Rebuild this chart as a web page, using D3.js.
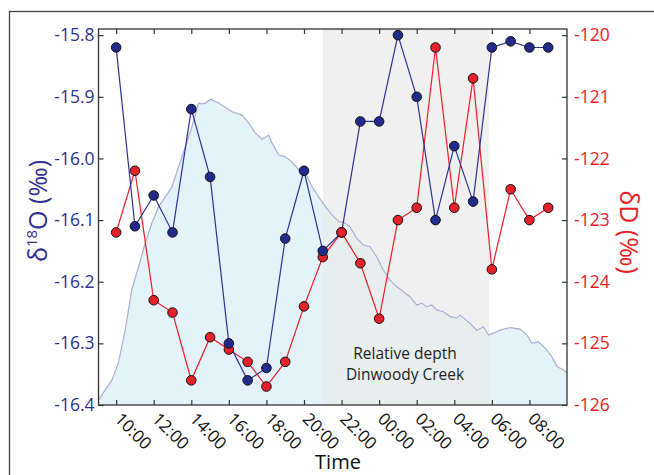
<!DOCTYPE html>
<html lang='en'>
<head>
  <meta charset='UTF-8'/>
  <title>Dinwoody Creek isotopes</title>
  <script src='https://d3js.org/d3.v7.min.js'></script>
  <style>
    body { margin: 0; background: #fff; }
    svg text { font-family: 'Open Sans', sans-serif; }
  </style>
</head>
<body>
  <svg id="chart" width="654" height="475"></svg>
<script>
// sample times, hours since midnight of day 1 (10:00 .. 09:00 next day)
const hours = [10, 11, 12, 13, 14, 15, 16, 17, 18, 19, 20, 21, 22, 23, 24, 25, 26, 27, 28, 29, 30, 31, 32, 33];
const d18O = [-15.82, -16.11, -16.06, -16.12, -15.92, -16.03, -16.30, -16.36, -16.34, -16.13, -16.02, -16.15,
              -16.12, -15.94, -15.94, -15.80, -15.90, -16.10, -15.98, -16.07, -15.82, -15.81, -15.82, -15.82];
const dD = [-123.2, -122.2, -124.3, -124.5, -125.6, -124.9, -125.1, -125.3, -125.7, -125.3, -124.4, -123.6,
            -123.2, -123.7, -124.6, -123.0, -122.8, -120.2, -122.8, -120.7, -123.8, -122.5, -123.0, -122.8];

// relative depth of the creek (0 = bottom of plot, 1 = top)
const depthHours = [9.06, 9.41, 9.77, 10.12, 10.48, 10.83, 11.19, 11.55, 11.9, 12.26, 12.61, 12.97, 13.32, 13.68,
  14.03, 14.39, 14.57, 14.75, 15.03, 15.46, 16.17, 16.7, 17.06, 17.41, 17.77, 18.12, 18.3, 18.66, 19.01, 19.37,
  19.72, 20.08, 20.43, 20.79, 21.15, 21.5, 21.86, 22.09, 22.44, 22.8, 23.15, 23.51, 23.87, 24.22, 24.58, 24.93,
  25.29, 25.64, 26.0, 26.27, 26.53, 26.8, 27.07, 27.42, 27.78, 28.13, 28.31, 28.84, 29.2, 29.55, 29.82, 30.09,
  30.44, 30.98, 31.51, 31.87, 32.13, 32.49, 32.84, 33.2, 33.47, 33.82, 34.0];
const depthRel = [0.013, 0.04, 0.066, 0.112, 0.199, 0.306, 0.367, 0.431, 0.484, 0.527, 0.553, 0.58, 0.633, 0.686,
  0.739, 0.803, 0.801, 0.803, 0.813, 0.803, 0.78, 0.771, 0.75, 0.723, 0.707, 0.718, 0.697, 0.665, 0.66, 0.646,
  0.625, 0.617, 0.58, 0.553, 0.527, 0.505, 0.487, 0.487, 0.474, 0.444, 0.426, 0.421, 0.394, 0.359, 0.332, 0.315,
  0.301, 0.288, 0.266, 0.271, 0.261, 0.266, 0.253, 0.248, 0.235, 0.231, 0.239, 0.217, 0.199, 0.208, 0.186, 0.191,
  0.199, 0.206, 0.202, 0.186, 0.164, 0.168, 0.151, 0.128, 0.102, 0.093, 0.085];

const nightStart = 21.0, nightEnd = 29.85;   // grey shaded span
const xTicks = [10, 12, 14, 16, 18, 20, 22, 24, 26, 28, 30, 32];
const leftTicks = [-15.8, -15.9, -16.0, -16.1, -16.2, -16.3, -16.4];
const rightTicks = [-120, -121, -122, -123, -124, -125, -126];

const navy = '#2e3192', red = '#ed1c24';
const margin = {left: 98.5, right: 567, top: 29, bottom: 405};

const svg = d3.select('#chart');

// outer frame
svg.append('rect')
  .attr('x', 9.5).attr('y', 11.5).attr('width', 700).attr('height', 500)
  .attr('fill', 'none').attr('stroke', '#444').attr('stroke-width', 1.3);

const x = d3.scaleLinear().domain([9.06, 34]).range([margin.left, margin.right]);
const yL = d3.scaleLinear().domain([-16.4, -15.79]).range([margin.bottom, margin.top]);
const yR = d3.scaleLinear().domain([-126, -119.9]).range([margin.bottom, margin.top]);
const yDepth = d3.scaleLinear().domain([0, 1]).range([margin.bottom, margin.top]);

const depth = depthHours.map((h, i) => ({h: h, r: depthRel[i]}));

svg.append('path')
  .datum(depth)
  .attr('fill', '#e4f3f9')
  .attr('d', d3.area().x(d => x(d.h)).y0(margin.bottom).y1(d => yDepth(d.r)));

svg.append('rect')
  .attr('x', x(nightStart)).attr('y', margin.top)
  .attr('width', x(nightEnd) - x(nightStart)).attr('height', margin.bottom - margin.top)
  .attr('fill', '#e9e9e9').attr('opacity', 0.7);

svg.append('path')
  .datum(depth)
  .attr('fill', 'none').attr('stroke', '#a9aed3').attr('stroke-width', 1.2)
  .attr('d', d3.line().x(d => x(d.h)).y(d => yDepth(d.r)));

const label = svg.append('text')
  .attr('text-anchor', 'middle').attr('fill', '#231f20').style('font-size', '15.5px');
label.append('tspan').attr('x', 405).attr('y', 359).text('Relative depth');
label.append('tspan').attr('x', 405).attr('y', 380).text('Dinwoody Creek');

// series lines
const pts = hours.map((h, i) => ({h: h, o: d18O[i], d: dD[i]}));
svg.append('path').datum(pts)
  .attr('fill', 'none').attr('stroke', red).attr('stroke-width', 1.2)
  .attr('d', d3.line().x(d => x(d.h)).y(d => yR(d.d)));
svg.append('path').datum(pts)
  .attr('fill', 'none').attr('stroke', navy).attr('stroke-width', 1.2)
  .attr('d', d3.line().x(d => x(d.h)).y(d => yL(d.o)));

// markers: lower markers first so the upper one sits on top where they overlap
let marks = [];
pts.forEach(p => {
  marks.push({cx: x(p.h), cy: yL(p.o), fill: '#222b8c'});
  marks.push({cx: x(p.h), cy: yR(p.d), fill: '#e62129'});
});
marks.sort((a, b) => b.cy - a.cy);
svg.selectAll('.dot').data(marks).enter()
  .append('circle')
  .attr('class', 'dot')
  .attr('cx', d => d.cx).attr('cy', d => d.cy).attr('r', 4.8)
  .attr('fill', d => d.fill).attr('stroke', '#111').attr('stroke-width', 1);

// axes
const fmtHour = h => String(h % 24).padStart(2, '0') + ':00';

const gBottom = svg.append('g')
  .attr('transform', `translate(0,${margin.bottom})`)
  .call(d3.axisBottom(x).tickValues(xTicks).tickFormat(fmtHour).tickSizeInner(-5).tickSizeOuter(0));
gBottom.selectAll('text')
  .attr('x', 0).attr('y', 0).attr('dy', 0)
  .attr('text-anchor', 'start')
  .attr('transform', 'translate(-3,15) rotate(45)')
  .attr('fill', '#111').style('font-size', '17px');

svg.append('g')
  .attr('transform', `translate(0,${margin.top})`)
  .call(d3.axisTop(x).tickValues(xTicks).tickFormat('').tickSizeInner(-5).tickSizeOuter(0));

const gLeft = svg.append('g')
  .attr('transform', `translate(${margin.left},0)`)
  .call(d3.axisLeft(yL).tickValues(leftTicks).tickFormat(d => d.toFixed(1)).tickSizeInner(-5).tickSizeOuter(0).tickPadding(4));
gLeft.selectAll('text').attr('fill', navy).style('font-size', '17.5px');

const gRight = svg.append('g')
  .attr('transform', `translate(${margin.right},0)`)
  .call(d3.axisRight(yR).tickValues(rightTicks).tickFormat(d => d.toFixed(0)).tickSizeInner(-5).tickSizeOuter(0).tickPadding(7));
gRight.selectAll('text').attr('fill', red).style('font-size', '17.5px');

svg.selectAll('.domain').remove();
svg.append('rect')
  .attr('x', margin.left).attr('y', margin.top)
  .attr('width', margin.right - margin.left).attr('height', margin.bottom - margin.top)
  .attr('fill', 'none').attr('stroke', '#333').attr('stroke-width', 1.3);
svg.selectAll('.tick line').attr('stroke', '#333').attr('stroke-width', 1.2);

// axis titles
const leftTitle = svg.append('text')
  .attr('transform', 'translate(47,211) rotate(-90)')
  .attr('text-anchor', 'middle').attr('fill', navy).style('font-size', '25px');
leftTitle.append('tspan').text('\u03b4');
leftTitle.append('tspan').attr('dy', -10).style('font-size', '15px').text('18');
leftTitle.append('tspan').attr('dy', 10).text('O (\u2030)');

svg.append('text')
  .attr('transform', 'translate(620,232) rotate(90)')
  .attr('text-anchor', 'middle').attr('fill', red).style('font-size', '25px')
  .text('\u03b4D (\u2030)');

svg.append('text')
  .attr('x', 338).attr('y', 469)
  .attr('text-anchor', 'middle').attr('fill', '#111').style('font-size', '20px')
  .text('Time');
</script>
</body>
</html>
